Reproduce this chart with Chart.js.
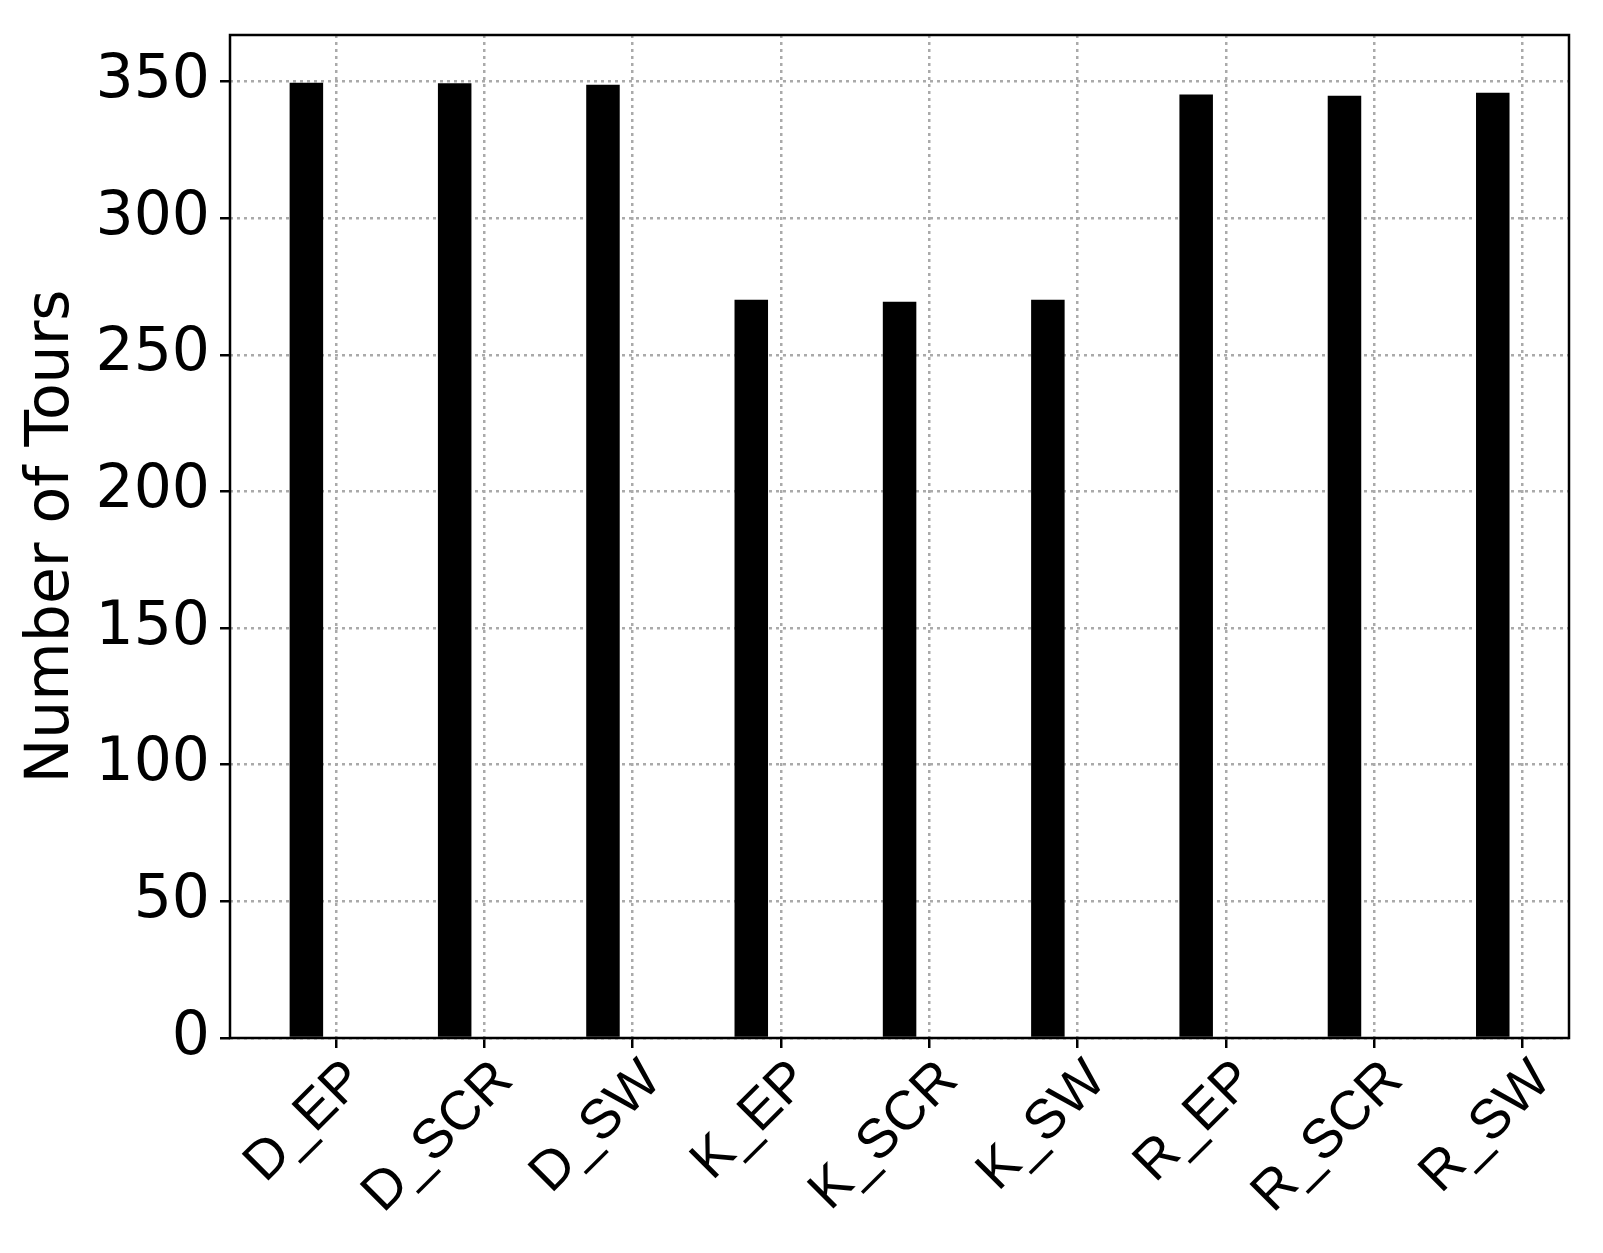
<!DOCTYPE html>
<html>
<head>
<meta charset="utf-8">
<title>Number of Tours</title>
<script src="https://cdn.jsdelivr.net/npm/chart.js@4.4.1/dist/chart.umd.min.js"></script>
<style>
  html, body { margin: 0; padding: 0; background: #fff; }
  #wrap { width: 1603px; height: 1253px; }
</style>
</head>
<body>
<div id="wrap"><canvas id="tours" width="1603" height="1253"></canvas></div>
<script>
// values
const categories = ['D_EP', 'D_SCR', 'D_SW', 'K_EP', 'K_SCR', 'K_SW', 'R_EP', 'R_SCR', 'R_SW'];
const tours = [349.5, 349.3, 348.8, 270.1, 269.4, 270.1, 345.2, 344.8, 345.9];
const yTicks = [0, 50, 100, 150, 200, 250, 300, 350];
const yTitle = 'Number of Tours';

// bars sit a little left of their tick, like an offset grouped bar
const BAR_SHIFT = -0.2;
const GRID_COLOR = '#aaaaaa';

Chart.defaults.color = '#000';

// matplotlib style box around the plot area
const framePlugin = {
  id: 'frame',
  afterDraw(chart) {
    const { ctx, chartArea: a } = chart;
    ctx.save();
    ctx.strokeStyle = '#000';
    ctx.lineWidth = 2.5;
    ctx.strokeRect(a.left, a.top, a.right - a.left, a.bottom - a.top);
    ctx.restore();
  }
};

const ctx = document.getElementById('tours').getContext('2d');
new Chart(ctx, {
  type: 'bar',
  data: {
    datasets: [{
      data: tours.map((v, i) => ({ x: i + BAR_SHIFT, y: v })),
      backgroundColor: '#000',
      borderWidth: 0,
      categoryPercentage: 1,
      barPercentage: 0.226
    }]
  },
  options: {
    responsive: false,
    animation: false,
    layout: { padding: { top: 35, right: 34, left: 0, bottom: 0 } },
    plugins: {
      legend: { display: false },
      tooltip: { enabled: false }
    },
    scales: {
      x: {
        type: 'linear',
        min: -0.715,
        max: 8.314,
        offset: false,
        z: 1,
        afterBuildTicks: (axis) => {
          axis.ticks = categories.map((c, i) => ({ value: i }));
        },
        afterFit: (axis) => {
          axis.height = 215;
          axis.paddingLeft = 0;
          axis.paddingRight = 0;
        },
        grid: {
          offset: false,
          color: GRID_COLOR,
          lineWidth: 2.5,
          tickLength: 10,
          tickColor: '#000',
          tickWidth: 2.5,
          tickBorderDash: []
        },
        border: { display: false, dash: [3, 4] },
        ticks: {
          autoSkip: false,
          maxRotation: 45,
          minRotation: 45,
          padding: 0,
          labelOffset: 20,
          color: '#000',
          font: { family: 'Liberation Sans', size: 55 },
          callback: (value, index) => categories[index]
        }
      },
      y: {
        min: 0,
        max: 367,
        z: 1,
        afterBuildTicks: (axis) => {
          axis.ticks = yTicks.map(v => ({ value: v }));
        },
        afterFit: (axis) => {
          axis.width = 230;
          axis.paddingTop = 0;
          axis.paddingBottom = 0;
        },
        grid: {
          color: GRID_COLOR,
          lineWidth: 2.5,
          tickLength: 10,
          tickColor: '#000',
          tickWidth: 2.5,
          tickBorderDash: []
        },
        border: { display: false, dash: [3, 4] },
        ticks: {
          padding: 10,
          color: '#000',
          font: { family: 'DejaVu Sans', size: 60 }
        },
        title: {
          display: true,
          text: yTitle,
          color: '#000',
          font: { family: 'DejaVu Sans', size: 60 },
          padding: { top: 16, bottom: 0 }
        }
      }
    }
  },
  plugins: [framePlugin]
});
</script>
</body>
</html>
